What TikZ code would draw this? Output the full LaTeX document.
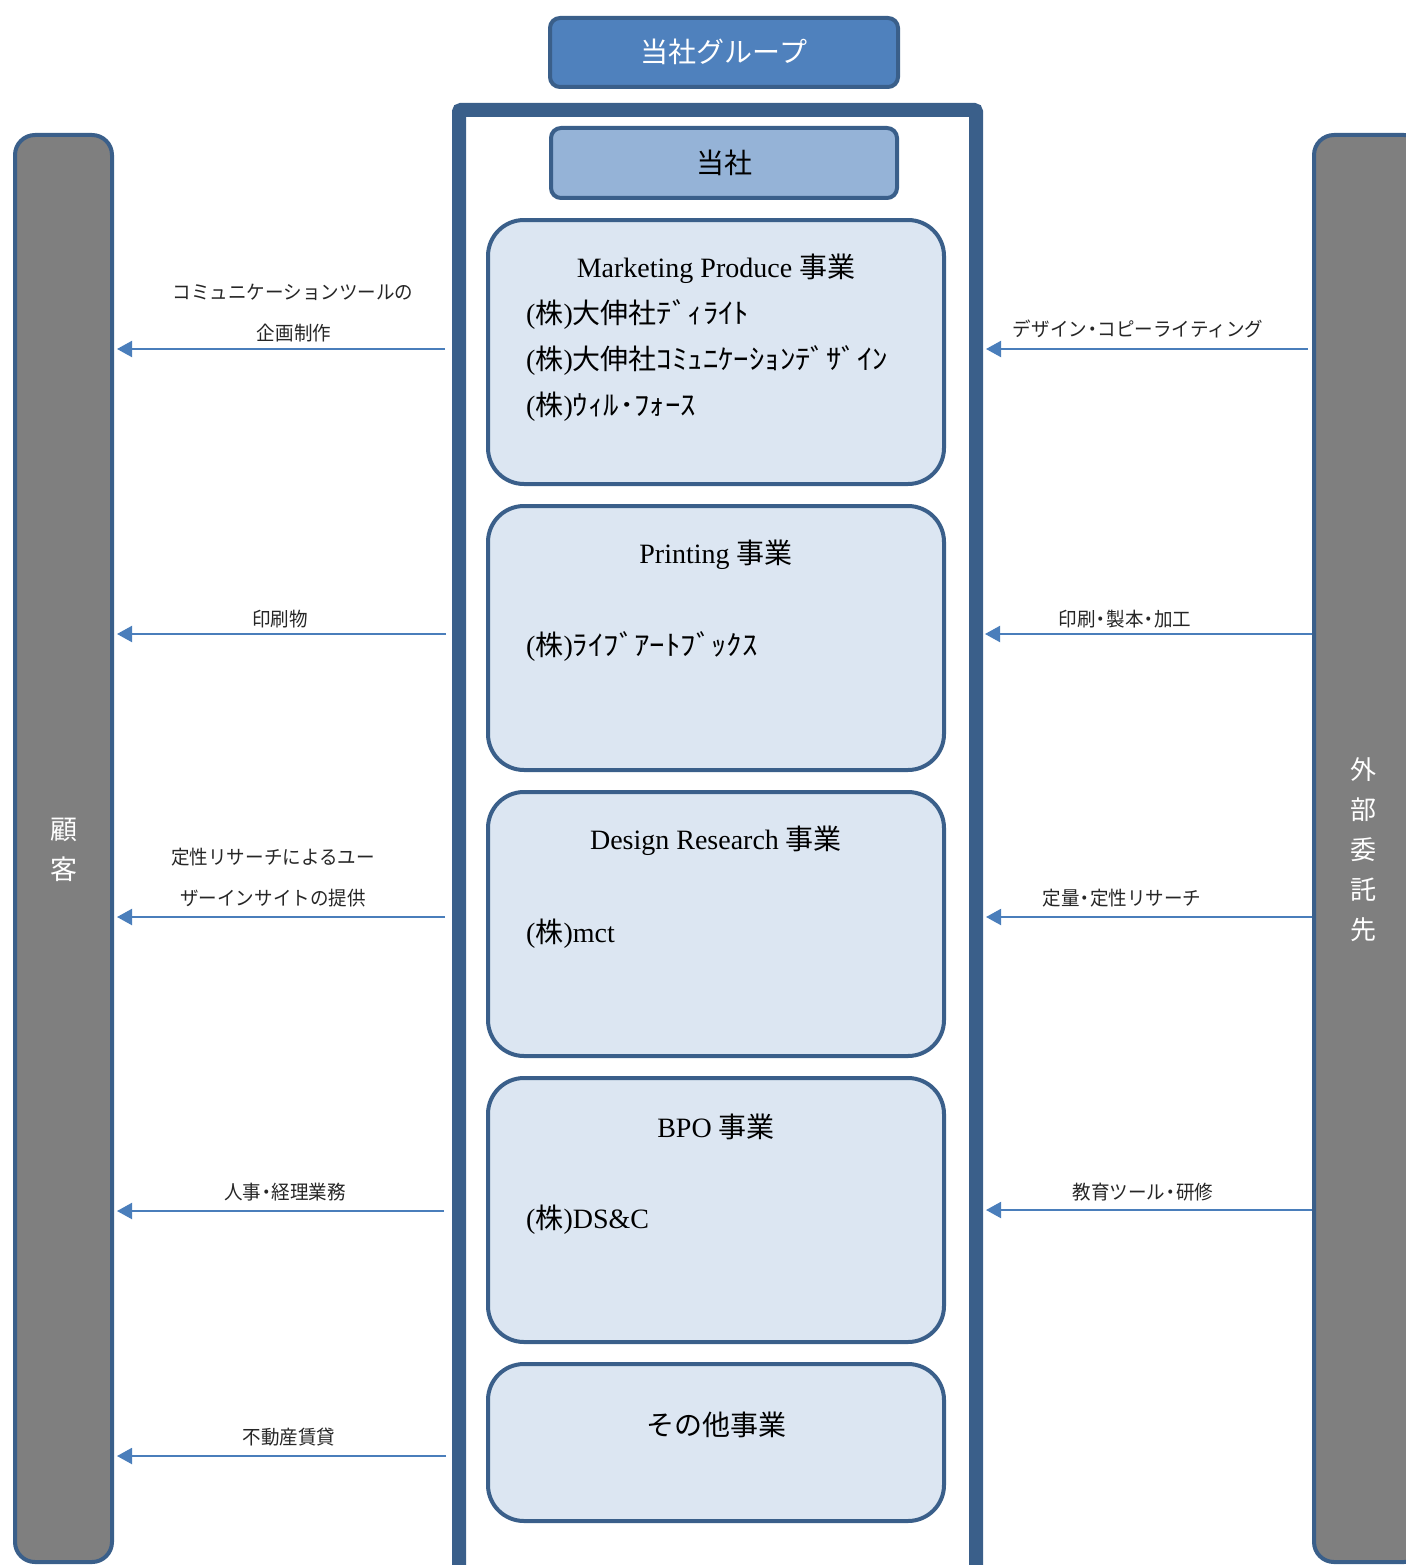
\documentclass[tikz,border=0pt]{standalone}
\usepackage{fontspec}
\setmainfont{Liberation Serif}
\newfontfamily\cjk{Noto Sans CJK JP}
\newfontfamily\cjkw[FakeStretch=1.1]{Noto Sans CJK JP}
\newfontfamily\cjkl[FakeStretch=0.95]{Noto Sans CJK JP}
\usetikzlibrary{arrows.meta}
\newcommand\J[1]{{\cjk #1}}
\newcommand\HW[1]{{\cjkw #1}}
\newcommand\dt{\makebox[0.55em]{・}}
\definecolor{bordc}{HTML}{3A5F8A}
\definecolor{grpfill}{HTML}{4F81BD}
\definecolor{cofill}{HTML}{95B3D7}
\definecolor{bizfill}{HTML}{DCE6F2}
\definecolor{barfill}{HTML}{7F7F7F}
\definecolor{arrc}{HTML}{4A7EBB}
\tikzset{
  grpbox/.style={draw=bordc, line width=4pt, rounded corners=10pt, inner sep=0pt},
  bizbox/.style={draw=bordc, fill=bizfill, line width=4pt, rounded corners=36pt, inner sep=0pt, minimum width=456pt},
  barbox/.style={draw=bordc, fill=barfill, line width=4pt, rounded corners=20pt, inner sep=0pt},
  bigtxt/.style={font=\fontsize{28}{34}\selectfont, inner sep=0pt},
  lbl/.style={font=\cjkl\fontsize{19.5}{24}\selectfont, inner sep=0pt, text=black!85},
  arr/.style={draw=arrc, line width=2pt, -{Triangle[length=15pt,width=16pt]}},
}
\begin{document}
\begin{tikzpicture}[x=1pt,y=-1pt]
\useasboundingbox (0,0) rectangle (1405,1565);
% side bars
\node[barbox, minimum width=97pt, minimum height=1427pt] (cust) at (63.5,848.5) {};
\node[font=\cjk\fontsize{27}{40}\selectfont, text=white, align=center, inner sep=0pt] (custT) at (64,850) {顧\\客};
\node[barbox, minimum width=110pt, minimum height=1427pt] (vend) at (1369,848.5) {};
\node[font=\cjk\fontsize{26}{40}\selectfont, text=white, align=center, inner sep=0pt] (vendT) at (1363,850) {外\\部\\委\\託\\先};
% group header
\node[grpbox, fill=grpfill, minimum width=348pt, minimum height=69pt] (grp) at (724,52.5) {};
\node[bigtxt, text=white] (grpT) at (724,52) {\J{当社グループ}};
% outer frame
\node[draw=bordc, line width=14pt, rounded corners=2pt, minimum width=517pt, minimum height=1470pt, inner sep=0pt] (frame) at (717.5,845) {};
% company box
\node[grpbox, fill=cofill, minimum width=346pt, minimum height=70pt] (co) at (724,163) {};
\node[bigtxt] (coT) at (724,163) {\J{当社}};
% business boxes
\node[bizbox, minimum height=264pt] (mp) at (716,352) {};
\node[bigtxt] (mpT) at (716,269) {Marketing Produce \J{事業}};
\node[bigtxt, anchor=west] (mp1) at (526,315) {(\J{株})\J{大伸社}\HW{ﾃﾞｨﾗｲﾄ}};
\node[bigtxt, anchor=west] (mp2) at (526,361) {(\J{株})\J{大伸社}\HW{ｺﾐｭﾆｹｰｼｮﾝﾃﾞｻﾞｲﾝ}};
\node[bigtxt, anchor=west] (mp3) at (526,407) {(\J{株})\HW{ｳｨﾙ･ﾌｫｰｽ}};

\node[bizbox, minimum height=264pt] (pr) at (716,638) {};
\node[bigtxt] (prT) at (716,555) {Printing \J{事業}};
\node[bigtxt, anchor=west] (pr1) at (526,647) {(\J{株})\HW{ﾗｲﾌﾞｱｰﾄﾌﾞｯｸｽ}};

\node[bizbox, minimum height=264pt] (dr) at (716,924) {};
\node[bigtxt] (drT) at (716,841) {Design Research \J{事業}};
\node[bigtxt, anchor=west] (dr1) at (526,934) {(\J{株})mct};

\node[bizbox, minimum height=264pt] (bpo) at (716,1210) {};
\node[bigtxt] (bpoT) at (716,1127) {BPO \J{事業}};
\node[bigtxt, anchor=west] (bpo1) at (526,1220) {(\J{株})DS\&C};

\node[bizbox, minimum height=157pt] (oth) at (716,1442.5) {};
\node[bigtxt] (othT) at (716,1425) {\J{その他事業}};

% arrow levels
\coordinate (y1) at (0,349);
\coordinate (y2) at (0,634);
\coordinate (y3) at (0,917);
\coordinate (y4) at (0,1211);
\coordinate (y5) at (0,1456);
\coordinate (ls1) at (445,349);
\coordinate (ls2) at (446,634);
\coordinate (ls3) at (445,917);
\coordinate (ls4) at (444,1211);
\coordinate (ls5) at (446,1456);
\coordinate (rs1) at (1308,349);
\coordinate (rt1) at (986,349);
\coordinate (rt2) at (985,634);
\coordinate (rt3) at (986,917);
\coordinate (rt4) at (986,1210);

% left arrows
\draw[arr] (ls1) -- ([xshift=3pt]cust.east |- y1);
\draw[arr] (ls2) -- ([xshift=3pt]cust.east |- y2);
\draw[arr] (ls3) -- ([xshift=3pt]cust.east |- y3);
\draw[arr] (ls4) -- ([xshift=3pt]cust.east |- y4);
\draw[arr] (ls5) -- ([xshift=3pt]cust.east |- y5);
% right arrows
\draw[arr] (rs1) -- (rt1);
\draw[arr] (vend.west |- rt2) -- (rt2);
\draw[arr] (vend.west |- rt3) -- (rt3);
\draw[arr] (vend.west |- rt4) -- (rt4);

% left labels
\node[lbl] (la1) at (293,292) {コミュニケーションツールの};
\node[lbl] (la1b) at (294,333) {企画制作};
\node[lbl] (la2) at (280,619) {印刷物};
\node[lbl] (la3) at (273,857) {定性リサーチによるユー};
\node[lbl] (la3b) at (273,898) {ザーインサイトの提供};
\node[lbl] (la4) at (285,1192) {人事\dt 経理業務};
\node[lbl] (la5) at (289,1437) {不動産賃貸};
% right labels
\node[lbl] (ra1) at (1138,329) {デザイン\dt コピーライティング};
\node[lbl] (ra2) at (1125,619) {印刷\dt 製本\dt 加工};
\node[lbl] (ra3) at (1122,898) {定量\dt 定性リサーチ};
\node[lbl] (ra4) at (1143,1192) {教育ツール\dt 研修};
\end{tikzpicture}
\end{document}
